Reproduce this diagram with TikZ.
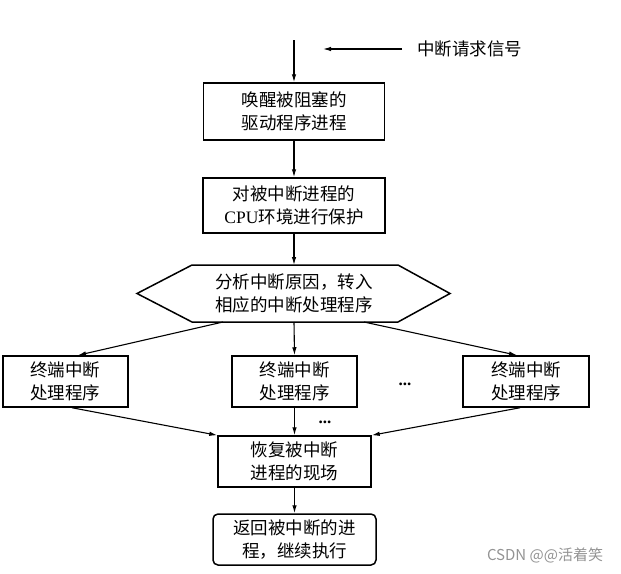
\documentclass[tikz,border=0pt]{standalone}
\usepackage{fontspec}
\setmainfont{Liberation Serif}
\newfontfamily\cjk{Noto Sans CJK SC}
\usetikzlibrary{arrows.meta,calc}
\begin{document}
\begin{tikzpicture}[x=1pt,y=-1pt,
  every node/.style={font=\cjk\fontsize{17.5}{23}\selectfont, align=center, inner sep=0pt},
  box/.style={draw, line width=1.5pt},
  dotsnode/.style={font=\rmfamily\bfseries\fontsize{17}{20}\selectfont},
  arr/.style={-{Latex[length=8pt,width=4.5pt]}, line width=1.1pt}]
\useasboundingbox (0,0) rectangle (621,573);
\coordinate (top) at (294,40);
\node[box, minimum width=181pt, minimum height=57pt] (b1) at (294,111.5) {唤醒被阻塞的\\驱动程序进程};
\node[box, minimum width=182pt, minimum height=55pt] (b2) at (294,205.5) {对被中断进程的\\{\rmfamily CPU}环境进行保护};
\coordinate (h1) at (137,293.5);
\coordinate (h2) at (192,265);
\coordinate (h3) at (398,265);
\coordinate (h4) at (450,293.5);
\coordinate (h5) at (398,322);
\coordinate (h6) at (192,322);
\draw[line width=1.5pt, line join=miter] (h1)--(h2)--(h3)--(h4)--(h5)--(h6)--cycle;
\node (hex) at (294,293.5) {分析中断原因，转入\\相应的中断处理程序};
\coordinate (hexn) at (294,265);
\coordinate (hexs) at (294,322);
\coordinate (hl) at (223,322);
\coordinate (hr) at (364,322);
\node[box, minimum width=125pt, minimum height=51pt] (lb) at (65.5,381.5) {终端中断\\处理程序};
\node[box, minimum width=125pt, minimum height=51pt] (mb) at (294.5,381.5) {终端中断\\处理程序};
\node[box, minimum width=126pt, minimum height=51pt] (rb) at (526,381.5) {终端中断\\处理程序};
\node[dotsnode, anchor=base] (dots1) at (405,385) {...};
\node[dotsnode, anchor=base] (dots2) at (325,423) {...};
\node[box, minimum width=153pt, minimum height=51pt] (rec) at (294.5,461.5) {恢复被中断\\进程的现场};
\node[box, rounded corners=5pt, minimum width=163pt, minimum height=51pt] (fin) at (294.5,539.5) {返回被中断的进\\程，继续执行};
\node[anchor=west] (sig) at (417,49) {中断请求信号};
\coordinate (sigtip) at (323,49);
\node[font=\cjk\fontsize{15}{17}\selectfont, text=gray!85] (csdn) at (545,555) {CSDN @@活着笑};
\draw[arr] (top) -- (b1.north);
\draw[arr] ([xshift=-15pt]sig.west) -- (sigtip);
\draw[arr] (b1.south) -- (b2.north);
\draw[arr] (b2.south) -- (hexn);
\draw[arr] (hexs) -- (mb.north);
\draw[arr] (hl) -- ([xshift=12.5pt]lb.north);
\draw[arr] (hr) -- ([xshift=-9pt]rb.north);
\draw[arr] ([xshift=6.5pt]lb.south) -- (rec.north west);
\draw[arr] (mb.south) -- (rec.north);
\draw[arr] ([xshift=-6pt]rb.south) -- (rec.north east);
\draw[arr] (rec.south) -- (fin.north);
\end{tikzpicture}
\end{document}
